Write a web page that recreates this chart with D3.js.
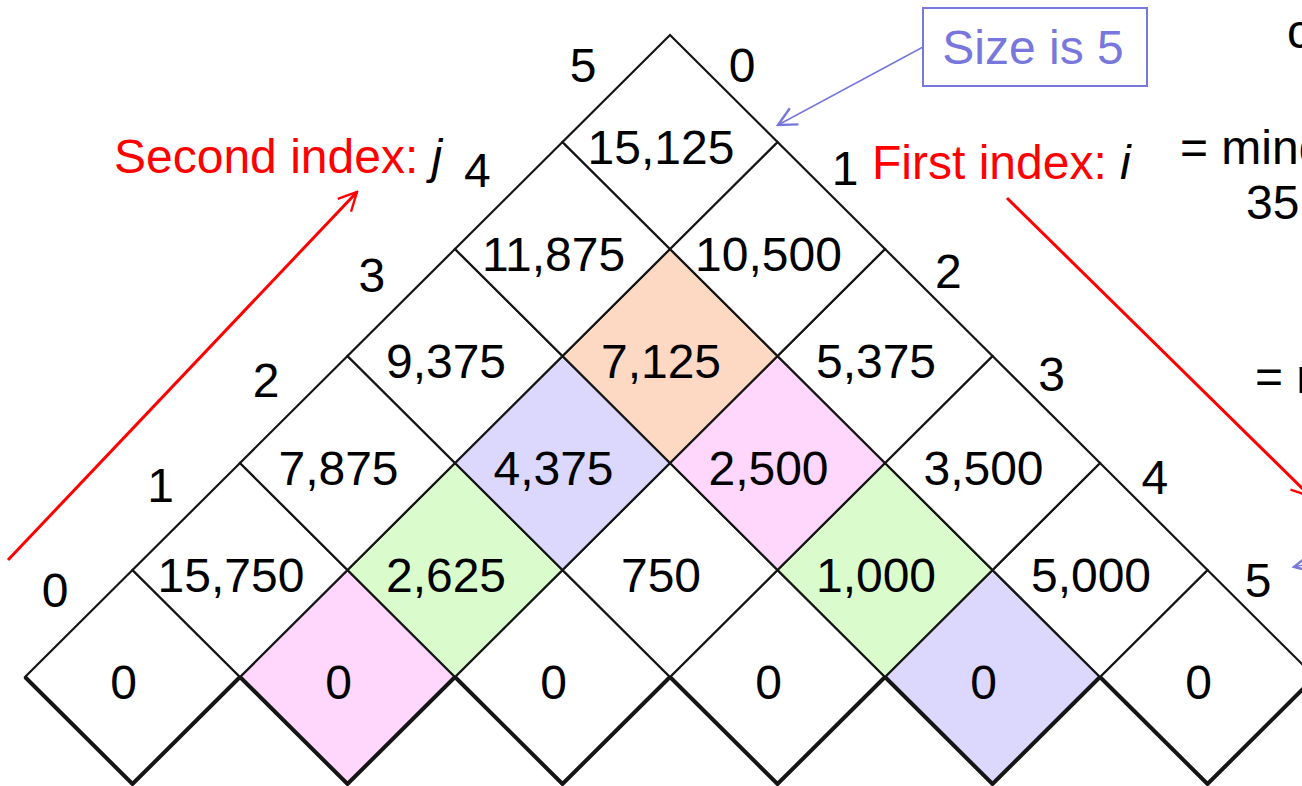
<!DOCTYPE html>
<html>
<head>
<meta charset="utf-8">
<script src="https://cdn.jsdelivr.net/npm/d3@7"></script>
<style>
  body { margin: 0; background: #fff; }
  svg { display: block; font-family: Arial, "Liberation Sans", sans-serif; }
</style>
</head>
<body>
<svg id="chart" width="1302" height="786"></svg>
<script>
// cost table m[i][j], one array per chain size (j - i)
const size0 = [0, 0, 0, 0, 0, 0];
const size1 = [15750, 2625, 750, 1000, 5000];
const size2 = [7875, 4375, 2500, 3500];
const size3 = [9375, 7125, 5375];
const size4 = [11875, 10500];
const size5 = [15125];
const costBySize = [size0, size1, size2, size3, size4, size5];

const indexLabels = [0, 1, 2, 3, 4, 5];

// highlighted cells: [i, j, group]
const highlights = [
  [1, 1, "pink"], [4, 4, "lavender"],
  [1, 2, "green"], [3, 4, "green"],
  [1, 3, "lavender"], [2, 4, "pink"],
  [1, 4, "orange"]
];

const fills = { pink: "#ffd6fc", lavender: "#dbd7fd", green: "#dafccd", orange: "#fdd9c4" };

const svg = d3.select("#chart");
const fontSize = 48;

// cell centres: x from (i+j)/2, y from size j-i
const xScale = d3.scaleLinear().domain([0, 5]).range([132.5, 1207.5]);
const yScale = d3.scaleLinear().domain([0, 5]).range([677, 142]);
const halfW = (xScale(1) - xScale(0)) / 2;
const halfH = yScale(0) - yScale(1);

// label positions along the two edges
const jX = d3.scaleLinear().domain([0, 5]).range([55, 583]);
const jY = d3.scaleLinear().domain([0, 5]).range([590, 65]);
const iX = d3.scaleLinear().domain([0, 5]).range([742, 1258]);
const iY = d3.scaleLinear().domain([0, 5]).range([65, 580]);

const fmt = d3.format(",");

const cells = [];
costBySize.forEach((row, s) => {
  row.forEach((v, i) => {
    const j = i + s;
    const h = highlights.find(d => d[0] === i && d[1] === j);
    cells.push({ i, j, s, v, fill: h ? fills[h[2]] : "#fff" });
  });
});

const defs = svg.append("defs");
function marker(id, color) {
  defs.append("marker")
    .attr("id", id)
    .attr("viewBox", "0 0 12 12")
    .attr("refX", 11).attr("refY", 6)
    .attr("markerWidth", 22).attr("markerHeight", 22)
    .attr("markerUnits", "userSpaceOnUse")
    .attr("orient", "auto")
    .append("path")
    .attr("d", "M1,1 L11,6 L1,11")
    .attr("fill", "none")
    .attr("stroke", color)
    .attr("stroke-width", 1.3);
}
marker("redHead", "#ff0000");
marker("blueHead", "#7777dd");

// diamonds
const g = svg.append("g");
g.selectAll("polygon.cell")
  .data(cells)
  .join("polygon")
  .attr("class", "cell")
  .attr("points", d => {
    const cx = xScale((d.i + d.j) / 2), cy = yScale(d.s);
    return [[cx, cy - halfH], [cx + halfW, cy], [cx, cy + halfH], [cx - halfW, cy]].join(" ");
  })
  .attr("fill", d => d.fill)
  .attr("stroke", "#151515")
  .attr("stroke-width", 2.2);

// heavier lower edges on the bottom row
g.selectAll("polyline.base")
  .data(cells.filter(d => d.s === 0))
  .join("polyline")
  .attr("class", "base")
  .attr("points", d => {
    const cx = xScale(d.i), cy = yScale(0);
    return [[cx - halfW, cy], [cx, cy + halfH], [cx + halfW, cy]].join(" ");
  })
  .attr("fill", "none")
  .attr("stroke", "#151515")
  .attr("stroke-width", 4);

g.selectAll("text.val")
  .data(cells)
  .join("text")
  .attr("class", "val")
  .attr("x", d => xScale((d.i + d.j) / 2) - 9)
  .attr("y", d => yScale(d.s) + 22)
  .attr("text-anchor", "middle")
  .attr("font-size", fontSize)
  .attr("fill", "#000")
  .text(d => fmt(d.v));

// index labels
svg.selectAll("text.jlab")
  .data(indexLabels)
  .join("text")
  .attr("class", "jlab")
  .attr("x", d => jX(d))
  .attr("y", d => jY(d) + 17)
  .attr("text-anchor", "middle")
  .attr("font-size", fontSize)
  .text(d => d);

svg.selectAll("text.ilab")
  .data(indexLabels)
  .join("text")
  .attr("class", "ilab")
  .attr("x", d => iX(d))
  .attr("y", d => iY(d) + 17)
  .attr("text-anchor", "middle")
  .attr("font-size", fontSize)
  .text(d => d);

// red direction arrows and captions
svg.append("line")
  .attr("x1", 8).attr("y1", 560).attr("x2", 357).attr("y2", 192)
  .attr("stroke", "#ff0000").attr("stroke-width", 3)
  .attr("marker-end", "url(#redHead)");
svg.append("line")
  .attr("x1", 1007).attr("y1", 198).attr("x2", 1310).attr("y2", 496)
  .attr("stroke", "#ff0000").attr("stroke-width", 3)
  .attr("marker-end", "url(#redHead)");

const second = svg.append("text").attr("x", 114).attr("y", 173).attr("font-size", fontSize);
second.append("tspan").attr("fill", "#ff0000").text("Second index: ");
second.append("tspan").attr("fill", "#000").attr("font-style", "italic").text("j");

const first = svg.append("text").attr("x", 872).attr("y", 179).attr("font-size", fontSize);
first.append("tspan").attr("fill", "#ff0000").text("First index: ");
first.append("tspan").attr("fill", "#000").attr("font-style", "italic").text("i");

// "Size is 5" callout
svg.append("line")
  .attr("x1", 923).attr("y1", 47).attr("x2", 778).attr("y2", 125)
  .attr("stroke", "#7777dd").attr("stroke-width", 1.5)
  .attr("marker-end", "url(#blueHead)");
svg.append("rect")
  .attr("x", 923).attr("y", 8).attr("width", 224).attr("height", 78)
  .attr("fill", "#fff").attr("stroke", "#7777dd").attr("stroke-width", 2);
svg.append("text")
  .attr("x", 1033).attr("y", 64)
  .attr("text-anchor", "middle")
  .attr("font-size", fontSize)
  .attr("fill", "#7777dd")
  .text("Size is 5");

// text cut off at the right edge
const edgeText = [
  { x: 1287, y: 48, t: "c" },
  { x: 1180, y: 164, t: "= mind" },
  { x: 1246, y: 219, t: "35" },
  { x: 1255, y: 393, t: "= r" }
];
svg.selectAll("text.edge")
  .data(edgeText)
  .join("text")
  .attr("class", "edge")
  .attr("x", d => d.x).attr("y", d => d.y)
  .attr("font-size", fontSize)
  .text(d => d.t);

svg.append("line")
  .attr("x1", 1345).attr("y1", 556).attr("x2", 1294).attr("y2", 567)
  .attr("stroke", "#7777dd").attr("stroke-width", 1.5)
  .attr("marker-end", "url(#blueHead)");
</script>
</body>
</html>
